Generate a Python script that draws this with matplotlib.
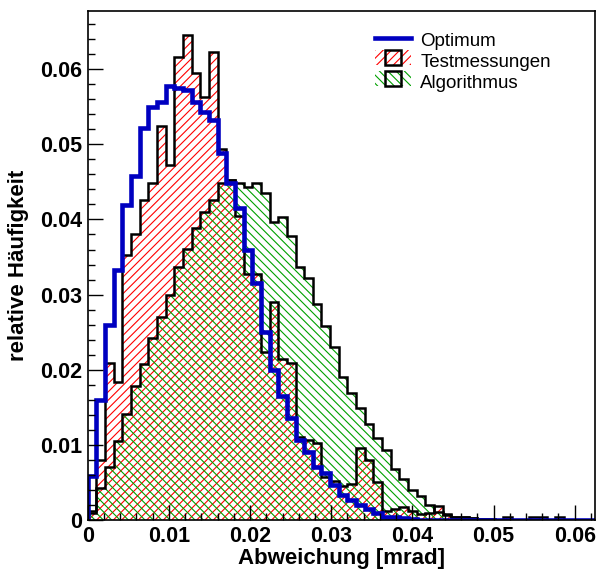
import numpy as np
import matplotlib
matplotlib.use("Agg")
import matplotlib.pyplot as plt
from matplotlib.patches import Rectangle
from matplotlib.lines import Line2D
from matplotlib.ticker import MultipleLocator, FuncFormatter

# 60 bins from 0 to 0.064 mrad, axis shown up to 0.0625
edges = np.linspace(0, 0.064, 61)

optimum = [0.0059, 0.0160, 0.0260, 0.0333, 0.0419, 0.0457, 0.0521, 0.0549, 0.0556, 0.0577,
           0.0574, 0.0572, 0.0556, 0.0543, 0.0532, 0.0488, 0.0449, 0.0415, 0.0360, 0.0316,
           0.0251, 0.0200, 0.0166, 0.0136, 0.0107, 0.0091, 0.0071, 0.0063, 0.0047, 0.0034,
           0.0027, 0.0021, 0.0015, 0.0010, 0.0005, 0.0004, 0.0003, 0.0002, 0.0001, 0.0001,
           0, 0, 0, 0, 0, 0, 0, 0, 0, 0,
           0, 0, 0, 0, 0, 0, 0, 0, 0, 0]

testmessungen = [0.0013, 0.0080, 0.0209, 0.0184, 0.0353, 0.0381, 0.0426, 0.0448, 0.0524, 0.0472,
                 0.0616, 0.0645, 0.0594, 0.0563, 0.0623, 0.0494, 0.0452, 0.0405, 0.0328, 0.0328,
                 0.0224, 0.0290, 0.0215, 0.0209, 0.0111, 0.0107, 0.0103, 0.0058, 0.0052, 0.0046,
                 0.0049, 0.0096, 0.0080, 0.0051, 0.0012, 0.0015, 0.0018, 0.0012, 0.0008, 0.0010,
                 0.0019, 0.0008, 0.0005, 0.0004, 0.0003, 0.0002, 0.0002, 0, 0.0004, 0,
                 0, 0.0004, 0.0004, 0, 0.0004, 0, 0, 0, 0, 0]

algorithmus = [0.0010, 0.0043, 0.0071, 0.0105, 0.0142, 0.0178, 0.0208, 0.0243, 0.0270, 0.0300,
               0.0337, 0.0361, 0.0388, 0.0410, 0.0426, 0.0448, 0.0453, 0.0448, 0.0443, 0.0449,
               0.0435, 0.0397, 0.0403, 0.0378, 0.0337, 0.0322, 0.0288, 0.0259, 0.0231, 0.0191,
               0.0169, 0.0150, 0.0128, 0.0109, 0.0093, 0.0069, 0.0055, 0.0040, 0.0032, 0.0021,
               0.0011, 0.0007, 0.0005, 0.0005, 0.0003, 0.0002, 0.0002, 0.0001, 0.0001, 0,
               0, 0, 0, 0, 0, 0, 0, 0, 0, 0]

red = "#ff0000"
green = "#00a000"
blue = "#0000c0"

plt.rcParams['font.family'] = ['Liberation Sans', 'DejaVu Sans']
plt.rcParams['hatch.linewidth'] = 0.8


class HatchBoxHandler:
    """wide hatched strip with a small black square in the middle"""
    def __init__(self, color, hatch):
        self.color = color
        self.hatch = hatch

    def legend_artist(self, legend, orig_handle, fontsize, handlebox):
        x0, y0 = handlebox.xdescent, handlebox.ydescent
        w, h = handlebox.width, handlebox.height
        back = Rectangle((x0, y0), w, h, facecolor="none", edgecolor=self.color,
                         hatch=self.hatch, linewidth=0, transform=handlebox.get_transform())
        s = h
        box = Rectangle((x0 + (w - s) / 2, y0), s, s, facecolor="none", edgecolor="black",
                        linewidth=1.8, transform=handlebox.get_transform())
        handlebox.add_artist(back)
        handlebox.add_artist(box)
        return box


fig = plt.figure(figsize=(5.98, 5.76), dpi=100)
ax = fig.add_axes([0.1467, 0.0964, 0.8483, 0.885])

# hatched fills first, outlines on top
ax.stairs(testmessungen, edges, fill=True, facecolor="none", edgecolor=red, hatch="////", linewidth=0)
ax.stairs(algorithmus, edges, fill=True, facecolor="none", edgecolor=green, hatch="\\\\\\\\", linewidth=0)
ax.stairs(testmessungen, edges, color="black", linewidth=1.8)
ax.stairs(algorithmus, edges, color="black", linewidth=1.8)
ax.stairs(optimum, edges, color=blue, linewidth=3.3)

ax.set_xlim(0, 0.0625)
ax.set_ylim(0, 1.05 * max(testmessungen))

ax.xaxis.set_major_locator(MultipleLocator(0.01))
ax.xaxis.set_minor_locator(MultipleLocator(0.002))
ax.yaxis.set_major_locator(MultipleLocator(0.01))
ax.yaxis.set_minor_locator(MultipleLocator(0.002))
fmt = FuncFormatter(lambda v, pos: "0" if abs(v) < 1e-9 else "%.2f" % v)
ax.xaxis.set_major_formatter(fmt)
ax.yaxis.set_major_formatter(fmt)

ax.tick_params(which="both", direction="in", top=False, right=False, width=1.0)
ax.tick_params(which="major", length=11, labelsize=15.5, pad=4)
ax.tick_params(which="minor", length=5)
for lab in ax.get_xticklabels() + ax.get_yticklabels():
    lab.set_fontweight("bold")
for sp in ax.spines.values():
    sp.set_linewidth(1.2)

ax.set_xlabel("Abweichung [mrad]", fontsize=16, fontweight="bold", labelpad=1)
ax.set_ylabel("relative Häufigkeit", fontsize=16, fontweight="bold", labelpad=8)

h_opt = Line2D([], [], color=blue, linewidth=3.3)
h_test = Rectangle((0, 0), 1, 1)
h_alg = Rectangle((0, 0), 1, 1)
fig.legend([h_opt, h_test, h_alg], ["Optimum", "Testmessungen", "Algorithmus"],
           handler_map={h_test: HatchBoxHandler(red, "////"),
                        h_alg: HatchBoxHandler(green, "\\\\\\\\")},
           loc="upper left", bbox_to_anchor=(0.612, 0.962), frameon=False,
           fontsize=13.5, handlelength=1.9, handleheight=0.9, handletextpad=0.5,
           labelspacing=0.15, borderpad=0)

fig.savefig("out.png", dpi=100)
